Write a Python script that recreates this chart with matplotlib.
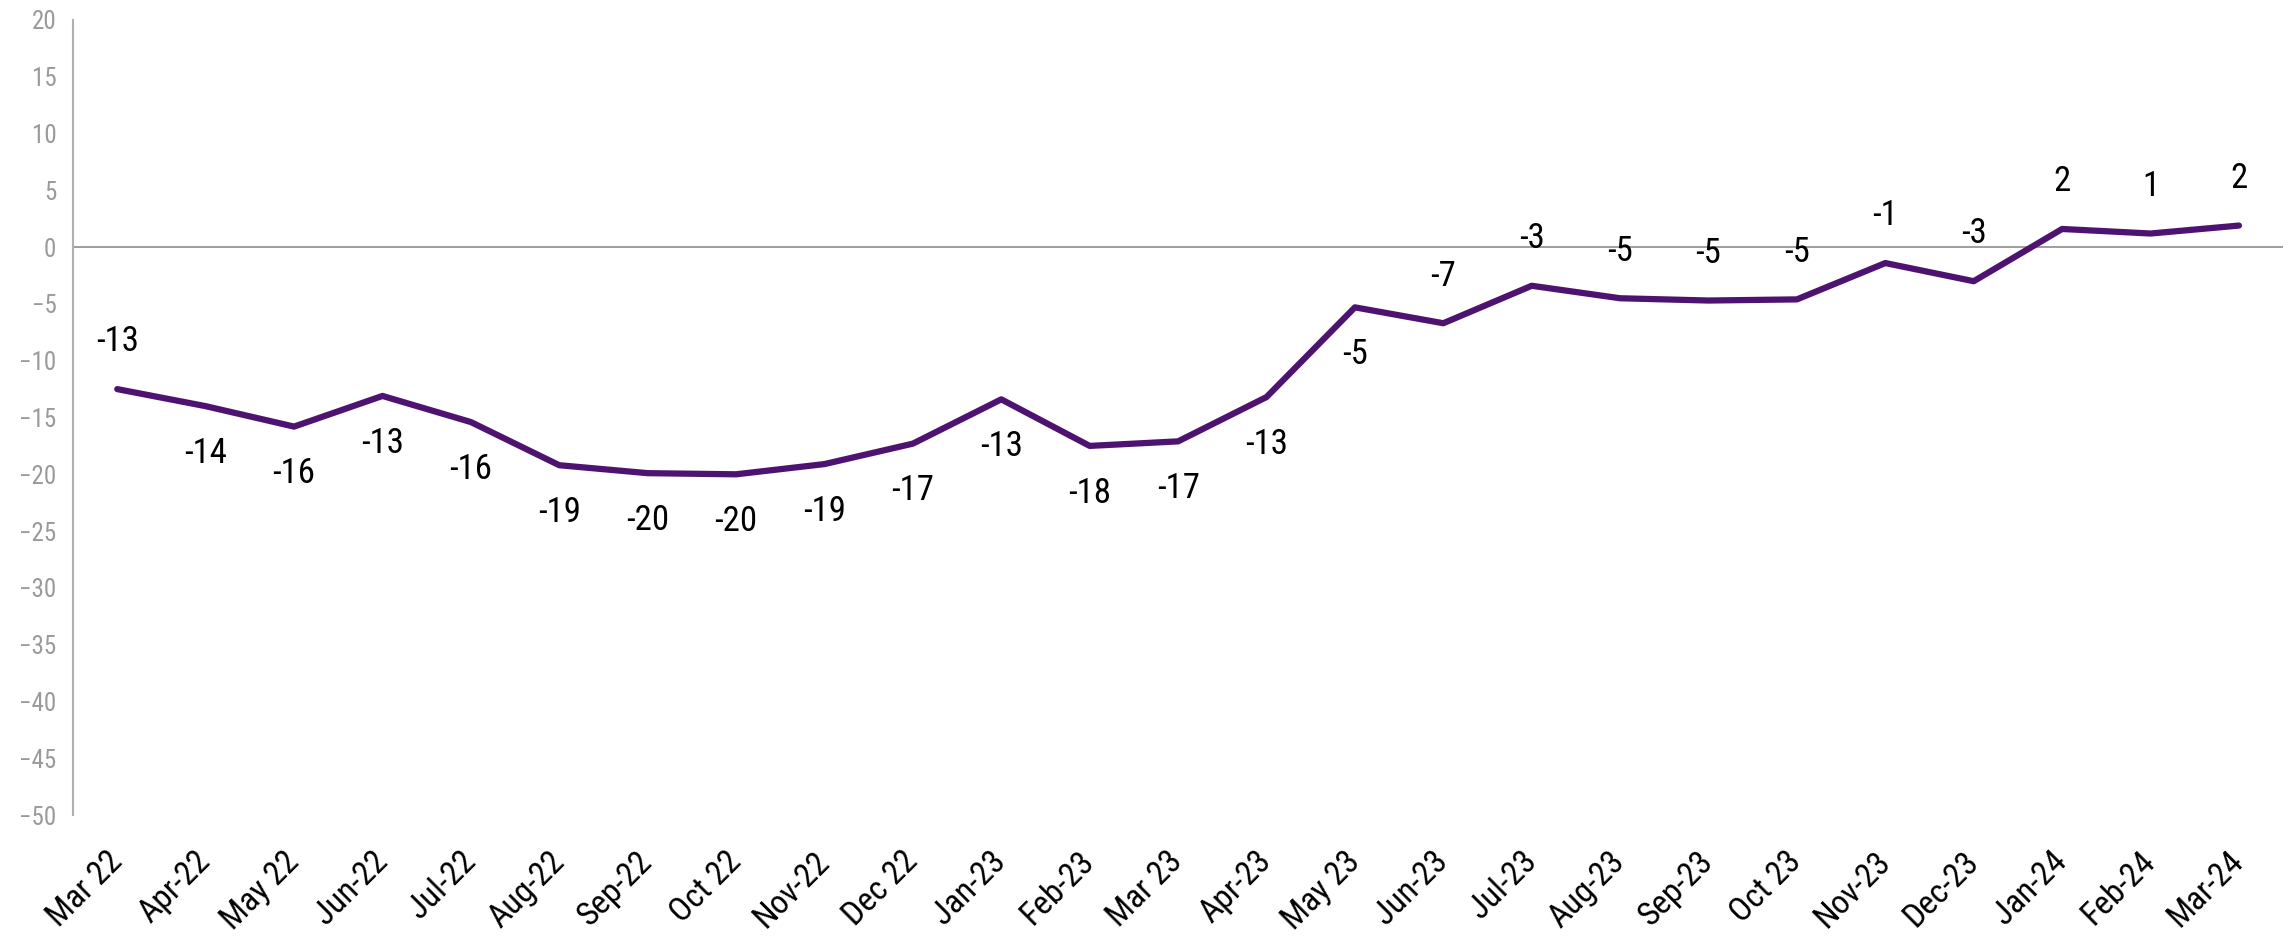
import matplotlib
matplotlib.use('Agg')
import matplotlib.pyplot as plt
from matplotlib import font_manager

# pick a narrow font if there is one
names = {f.name for f in font_manager.fontManager.ttflist}
family = 'Roboto'
for cand in ['Roboto Condensed', 'Liberation Sans Narrow', 'Roboto']:
    if cand in names:
        family = cand
        break
plt.rcParams['font.family'] = [family, 'DejaVu Sans']

#------------------------------------------------

months = ['Mar 22', 'Apr-22', 'May 22', 'Jun-22', 'Jul-22', 'Aug-22', 'Sep-22',
          'Oct 22', 'Nov-22', 'Dec 22', 'Jan-23', 'Feb-23', 'Mar 23', 'Apr-23',
          'May 23', 'Jun-23', 'Jul-23', 'Aug-23', 'Sep-23', 'Oct 23', 'Nov-23',
          'Dec-23', 'Jan-24', 'Feb-24', 'Mar-24']
values = [-12.5, -14.0, -15.8, -13.1, -15.4, -19.2, -19.9, -20.0, -19.1, -17.3,
          -13.4, -17.5, -17.1, -13.2, -5.3, -6.7, -3.4, -4.5, -4.7, -4.6,
          -1.4, -3.0, 1.6, 1.2, 1.9]
labels = ['-13', '-14', '-16', '-13', '-16', '-19', '-20', '-20', '-19', '-17',
          '-13', '-18', '-17', '-13', '-5', '-7', '-3', '-5', '-5', '-5',
          '-1', '-3', '2', '1', '2']
# label above (1) or below (-1) the line
label_side = [1, -1, -1, -1, -1, -1, -1, -1, -1, -1,
              -1, -1, -1, -1, -1, 1, 1, 1, 1, 1,
              1, 1, 1, 1, 1]

#------------------------------------------------

fig = plt.figure(figsize=(22.9, 9.43), dpi=100)
ax = fig.add_axes([0.0319, 0.1357, 0.9651, 0.8431])

x = list(range(len(months)))
ax.plot(x, values, color='#4e1370', lw=4.5, solid_capstyle='round',
        solid_joinstyle='round', zorder=3)
ax.axhline(0, color='#8c8c8c', lw=1.2, zorder=1)

for i, (v, t, s) in enumerate(zip(values, labels, label_side)):
    ax.annotate(t, (i, v), xytext=(0, 34 * s), textcoords='offset points',
                ha='center', va='center', fontsize=25, color='black')

ax.set_xlim(-0.5, len(months) - 0.5)
ax.set_ylim(-50, 20)
ax.set_yticks(range(-50, 21, 5))
ax.tick_params(axis='y', length=0, labelsize=18, labelcolor='#9a9a9a', pad=12)
ax.set_xticks(x)
ax.set_xticklabels(months, rotation=45, ha='right', va='center',
                   rotation_mode='anchor', fontsize=24)
ax.tick_params(axis='x', length=0, pad=30)

for side in ['top', 'right', 'bottom']:
    ax.spines[side].set_visible(False)
ax.spines['left'].set_color('#b0b0b0')
ax.spines['left'].set_linewidth(1.5)

plt.savefig('out.png', dpi=100)
